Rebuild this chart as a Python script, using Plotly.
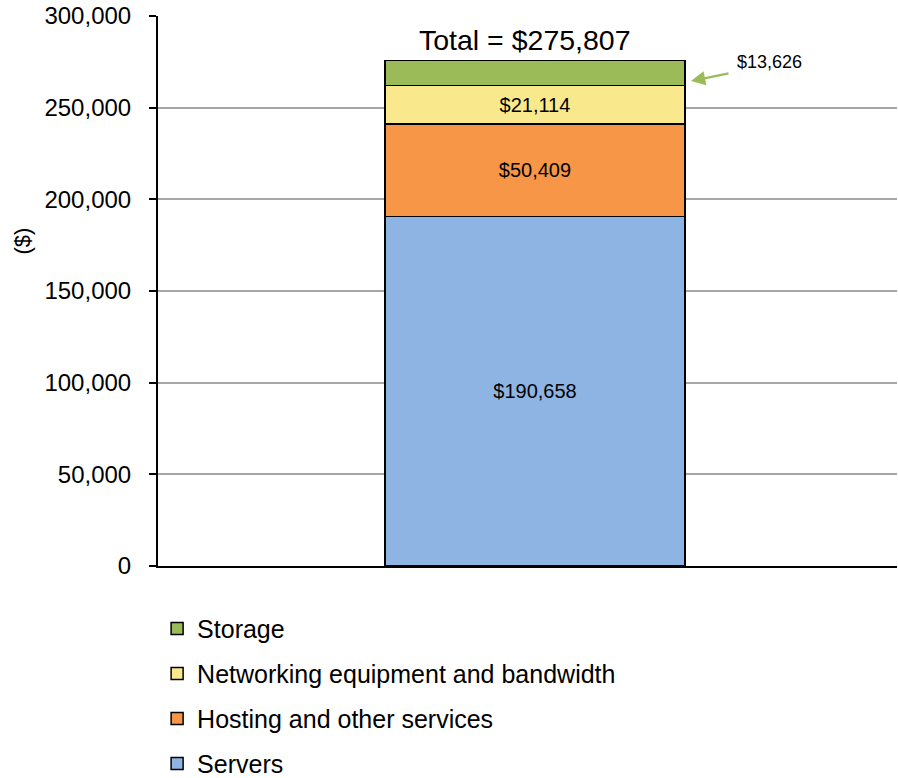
import plotly.graph_objects as go

categories = ["Cost"]
series_names = ["Servers", "Hosting and other services", "Networking equipment and bandwidth", "Storage"]
series_values = [190658, 50409, 21114, 13626]
series_colors = ["#8EB4E3", "#F79646", "#FAE98C", "#9BBB59"]
legend_ranks = [4, 3, 2, 1]
tick_vals = [0, 50000, 100000, 150000, 200000, 250000, 300000]
tick_text = ["0", "50,000", "100,000", "150,000", "200,000", "250,000", "300,000"]
total_value = sum(series_values)

FONT = "Liberation Sans, Arial, sans-serif"

fig = go.Figure()
for name, val, col, rank in zip(series_names, series_values, series_colors, legend_ranks):
    show_label = name != "Storage"
    fig.add_trace(go.Bar(
        x=categories, y=[val], name=name,
        marker=dict(color=col, line=dict(color="black", width=1.5)),
        width=0.406,
        text=[f"${val:,}"] if show_label else None,
        textposition="inside", insidetextanchor="middle",
        textfont=dict(family=FONT, size=20, color="black"),
        legendgroup=name, legendrank=rank,
        hoverinfo="skip",
    ))

fig.update_layout(
    barmode="stack",
    width=898, height=778,
    margin=dict(l=158, r=1, t=16, b=212, autoexpand=False),
    plot_bgcolor="white", paper_bgcolor="white",
    font=dict(family=FONT, color="black"),
    showlegend=True,
    legend=dict(
        orientation="v", x=-0.0012, xanchor="left", y=-0.0723, yanchor="top",
        traceorder="grouped", tracegroupgap=9.5,
        font=dict(family=FONT, size=25, color="black"),
        itemwidth=30, bgcolor="rgba(0,0,0,0)",
    ),
    xaxis=dict(
        range=[-0.5101, 0.4899], showticklabels=False, showgrid=False,
        showline=True, linecolor="black", linewidth=2, ticks="", zeroline=False,
        automargin=False,
    ),
    yaxis=dict(
        range=[0, 300000], tickvals=tick_vals, ticktext=tick_text,
        showgrid=True, gridcolor="#A6A6A6", gridwidth=1.5,
        showline=True, linecolor="black", linewidth=2,
        ticks="outside", ticklen=7, tickcolor="black", tickwidth=1.5,
        tickfont=dict(family=FONT, size=24, color="black"),
        ticklabelstandoff=13,
        zeroline=False, automargin=False,
    ),
)

# small tick below the axis origin
fig.add_shape(type="line", xref="paper", yref="y", x0=0, x1=0,
              ysizemode="pixel", yanchor=0, y0=0, y1=-7,
              line=dict(color="black", width=2))

# total label
fig.add_annotation(x=categories[0], y=total_value, xref="x", yref="y",
                   text=f"Total = ${total_value:,}", showarrow=False,
                   yanchor="bottom", yshift=2, xshift=-10,
                   font=dict(family=FONT, size=28.5, color="black"))

# storage label with arrow
fig.add_annotation(x=0.7212, y=264500, xref="paper", yref="y",
                   text="", showarrow=True, ax=39, ay=-8,
                   arrowhead=2, arrowsize=1.3, arrowwidth=2.2, arrowcolor="#9BBB59")
fig.add_annotation(x=0.828, y=274900, xref="paper", yref="y",
                   text=f"${series_values[3]:,}", showarrow=False,
                   xanchor="center", yanchor="middle",
                   font=dict(family=FONT, size=18, color="black"))

# y-axis title
fig.add_annotation(x=0, y=177000, xref="paper", yref="y", xshift=-136,
                   xanchor="center", yanchor="middle",
                   text="($)", textangle=-90, showarrow=False,
                   font=dict(family=FONT, size=22, color="black"))

post = ("document.body.style.margin='0';document.body.style.padding='0';"
        "document.documentElement.style.overflow='hidden';document.body.style.overflow='hidden';"
        "var gd=document.getElementById('{plot_id}');"
        "Plotly.relayout(gd,{width:898,height:778});")

fig.write_html("out.html", post_script=post, config={"displayModeBar": False})
